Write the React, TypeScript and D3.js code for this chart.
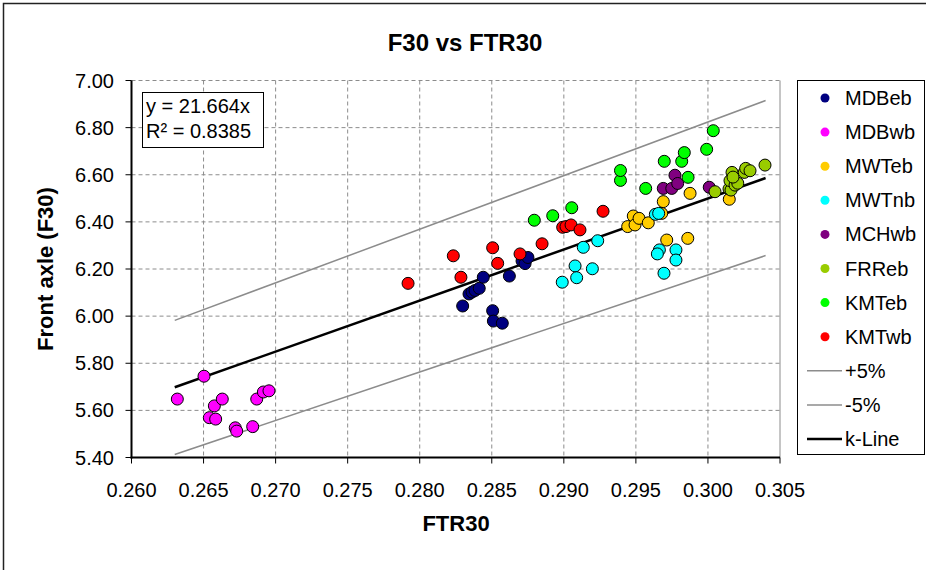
import React from "react";
import * as d3 from "d3";

const xTicks = [0.26, 0.265, 0.27, 0.275, 0.28, 0.285, 0.29, 0.295, 0.3, 0.305];
const yTicks = [5.4, 5.6, 5.8, 6.0, 6.2, 6.4, 6.6, 6.8, 7.0];

const seriesNames = ["MDBeb", "MDBwb", "MWTeb", "MWTnb", "MCHwb", "FRReb", "KMTeb", "KMTwb"];
const seriesColors = ["#000080", "#FF00FF", "#FFCC00", "#00FFFF", "#800080", "#99CC00", "#00FF00", "#FF0000"];

const MDBeb: [number, number][] = [
  [0.28298, 6.043], [0.28342, 6.094], [0.28363, 6.102], [0.28384, 6.109], [0.28413, 6.118],
  [0.28441, 6.165], [0.28506, 6.023], [0.28511, 5.979], [0.28573, 5.97], [0.28622, 6.17],
  [0.2871, 6.234], [0.28731, 6.223], [0.28751, 6.249],
];
const MDBwb: [number, number][] = [
  [0.26318, 5.648], [0.26503, 5.745], [0.26575, 5.619], [0.2663, 5.648], [0.2654, 5.569],
  [0.26584, 5.563], [0.2672, 5.526], [0.2673, 5.512], [0.26841, 5.531], [0.26869, 5.648],
  [0.26915, 5.678], [0.26954, 5.683],
];
const MWTeb: [number, number][] = [
  [0.29443, 6.38], [0.29482, 6.425], [0.29494, 6.387], [0.29522, 6.415], [0.29586, 6.396],
  [0.29679, 6.436], [0.2969, 6.486], [0.29714, 6.323], [0.2986, 6.33], [0.29876, 6.521],
  [0.30148, 6.496],
];
const MWTnb: [number, number][] = [
  [0.28989, 6.144], [0.29078, 6.213], [0.29089, 6.163], [0.29135, 6.292], [0.29198, 6.201],
  [0.29235, 6.32], [0.29635, 6.432], [0.29658, 6.436], [0.29663, 6.281], [0.29649, 6.264],
  [0.29778, 6.281], [0.29778, 6.238], [0.29695, 6.182],
];
const MCHwb: [number, number][] = [
  [0.2969, 6.542], [0.29749, 6.542], [0.29771, 6.598], [0.2979, 6.563], [0.30009, 6.547],
];
const FRReb: [number, number][] = [
  [0.30049, 6.528], [0.30146, 6.54], [0.3016, 6.535], [0.30167, 6.61], [0.30153, 6.575],
  [0.30188, 6.556], [0.30207, 6.564], [0.30174, 6.59], [0.30252, 6.61], [0.30262, 6.627],
  [0.30292, 6.617], [0.30396, 6.641],
];
const KMTeb: [number, number][] = [
  [0.28795, 6.407], [0.28923, 6.426], [0.29055, 6.46], [0.29393, 6.576], [0.29393, 6.618],
  [0.29568, 6.542], [0.29697, 6.657], [0.29818, 6.657], [0.29836, 6.694], [0.29862, 6.589],
  [0.29991, 6.708], [0.30037, 6.787],
];
const KMTwb: [number, number][] = [
  [0.27919, 6.139], [0.28233, 6.256], [0.28286, 6.165], [0.28506, 6.29], [0.28541, 6.224],
  [0.28696, 6.264], [0.28849, 6.307], [0.28992, 6.377], [0.29015, 6.38], [0.2905, 6.387],
  [0.29112, 6.366], [0.29272, 6.445],
];
const seriesData = [MDBeb, MDBwb, MWTeb, MWTnb, MCHwb, FRReb, KMTeb, KMTwb];

const plus5: [number, number][] = [[0.263, 5.982], [0.304, 6.915]];
const minus5: [number, number][] = [[0.263, 5.413], [0.304, 6.257]];
const kLine: [number, number][] = [[0.263, 5.698], [0.304, 6.586]];

const lineNames = ["+5%", "-5%", "k-Line"];
const equationLines = ["y = 21.664x", "R² = 0.8385"];

const FONT = "'Liberation Sans', Arial, Helvetica, sans-serif";

export default function App() {
  const W = 926, H = 570;
  const L = 131.5, R = 780, T = 80.5, B = 457.5;
  const x = d3.scaleLinear().domain([0.26, 0.305]).range([L, R]);
  const y = d3.scaleLinear().domain([5.4, 7.0]).range([B, T]);
  const line = d3.line<[number, number]>().x((d) => x(d[0])).y((d) => y(d[1]));

  const legendX = 797, legendY = 80, legendW = 127, legendH = 374;
  const rowY = (i: number) => 98 + i * 34.1;

  return (
    <svg width={W} height={H} style={{ position: "absolute", left: 0, top: 0, background: "#fff" }} fontFamily={FONT}>
      <rect x={0} y={0} width={W} height={H} fill="#fff" />
      <rect x={3.5} y={3.5} width={1000} height={1000} fill="none" stroke="#222" strokeWidth={1.5} />
      <text x={465} y={51} textAnchor="middle" fontSize={24} fontWeight="bold">F30 vs FTR30</text>

      {/* gridlines */}
      {yTicks.slice(1).map((t) => (
        <line key={"gy" + t} x1={L} x2={R} y1={y(t)} y2={y(t)} stroke="#8c8c8c" strokeWidth={1} strokeDasharray="4,3" />
      ))}
      {xTicks.slice(1, -1).map((t) => (
        <line key={"gx" + t} x1={x(t)} x2={x(t)} y1={T} y2={B} stroke="#8c8c8c" strokeWidth={1} strokeDasharray="4,3" />
      ))}
      <line x1={R} x2={R} y1={T} y2={B} stroke="#8c8c8c" strokeWidth={1} />

      {/* ticks */}
      {xTicks.map((t) => (
        <line key={"tx" + t} x1={x(t)} x2={x(t)} y1={B} y2={B + 6} stroke="#000" strokeWidth={1} />
      ))}
      {yTicks.map((t) => (
        <line key={"ty" + t} x1={L - 6} x2={L} y1={y(t)} y2={y(t)} stroke="#000" strokeWidth={1} />
      ))}
      {xTicks.map((t) => (
        <text key={"lx" + t} x={x(t)} y={497} textAnchor="middle" fontSize={20}>{t.toFixed(3)}</text>
      ))}
      {yTicks.map((t) => (
        <text key={"ly" + t} x={114} y={y(t) + 7} textAnchor="end" fontSize={20}>{t.toFixed(2)}</text>
      ))}

      {/* fitted lines */}
      <path d={line(plus5) || ""} fill="none" stroke="#8c8c8c" strokeWidth={1.5} />
      <path d={line(minus5) || ""} fill="none" stroke="#8c8c8c" strokeWidth={1.5} />
      <path d={line(kLine) || ""} fill="none" stroke="#000" strokeWidth={2.5} />

      {/* points */}
      {seriesData.map((s, si) =>
        s.map((d, i) => (
          <circle key={si + "-" + i} cx={x(d[0])} cy={y(d[1])} r={6} fill={seriesColors[si]} stroke="#000" strokeWidth={1} />
        ))
      )}

      {/* axes */}
      <line x1={L} x2={L} y1={T} y2={B + 1} stroke="#000" strokeWidth={2} />
      <line x1={L - 1} x2={R} y1={B} y2={B} stroke="#000" strokeWidth={2} />

      <text x={456} y={531} textAnchor="middle" fontSize={22} fontWeight="bold">FTR30</text>
      <text transform={`translate(53,269) rotate(-90)`} textAnchor="middle" fontSize={22} fontWeight="bold">Front axle (F30)</text>

      {/* equation */}
      <rect x={142.5} y={92.5} width={121} height={55} fill="#fff" stroke="#000" strokeWidth={1} />
      <text x={146} y={113} fontSize={20}>{equationLines[0]}</text>
      <text x={146} y={138} fontSize={20}>{equationLines[1]}</text>

      {/* legend */}
      <rect x={legendX + 0.5} y={legendY + 0.5} width={legendW} height={legendH} fill="#fff" stroke="#000" strokeWidth={1} />
      {seriesNames.map((n, i) => (
        <g key={n}>
          <circle cx={825} cy={rowY(i)} r={4.5} fill={seriesColors[i]} />
          <text x={845} y={rowY(i) + 7} fontSize={20}>{n}</text>
        </g>
      ))}
      {lineNames.map((n, j) => {
        const i = j + seriesNames.length;
        return (
          <g key={n}>
            <line x1={807} x2={842} y1={rowY(i)} y2={rowY(i)} stroke={j < 2 ? "#8c8c8c" : "#000"} strokeWidth={j < 2 ? 1.5 : 2.5} />
            <text x={845} y={rowY(i) + 7} fontSize={20}>{n}</text>
          </g>
        );
      })}
    </svg>
  );
}
